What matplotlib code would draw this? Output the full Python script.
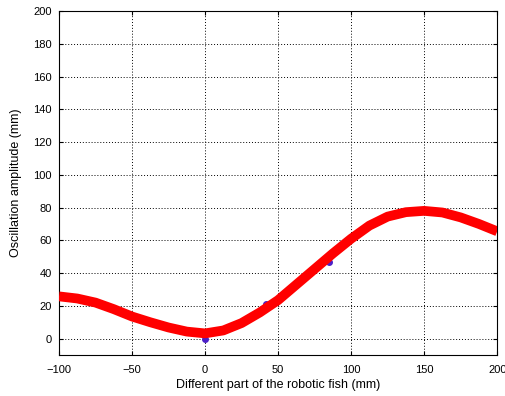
import numpy as np
import matplotlib
matplotlib.use('Agg')
import matplotlib.pyplot as plt

plt.rcParams['font.family'] = ['Liberation Sans', 'DejaVu Sans']

# Amplitude envelope
pos = [-100, -87.5, -75, -62.5, -50, -37.5, -25, -12.5, 0, 12.5, 25, 37.5, 50,
       62.5, 75, 87.5, 100, 112.5, 125, 137.5, 150, 162.5, 175, 187.5, 200]
amp = [25.8, 24.5, 22, 18, 13.5, 10, 6.8, 4.3, 3.2, 5, 9.5, 16, 23.5,
       33, 42.5, 52, 61, 69, 74.5, 77.2, 78, 77, 74, 70, 65.5]

# measured joint points
jx = [0, 42, 85]
jy = [-0.5, 21, 47]

fig = plt.figure(figsize=(5.06, 3.96), dpi=100)
ax = fig.add_axes([0.1166, 0.1035, 0.866, 0.8687])

ax.plot(jx, jy, 'o', color='#4b20c8', markersize=4, zorder=2)
ax.plot(pos, amp, '-', color='red', linewidth=7, solid_capstyle='butt',
        solid_joinstyle='round', zorder=3)

ax.set_xlim(-100, 200)
ax.set_ylim(-10, 200)
ax.set_xticks(np.arange(-100, 201, 50))
ax.set_yticks(np.arange(0, 201, 20))
ax.grid(True, color='black', linestyle=(0, (1, 2)), linewidth=0.7)
ax.set_axisbelow(True)
ax.tick_params(direction='in', top=True, right=True, labelsize=8, length=3)
ax.tick_params(axis='x', pad=7)
ax.tick_params(axis='y', pad=5)
for s in ax.spines.values():
    s.set_linewidth(0.8)

ax.set_xlabel('Different part of the robotic fish (mm)', fontsize=9, labelpad=3)
ax.set_ylabel('Oscillation amplitude (mm)', fontsize=9, labelpad=8)

fig.savefig('out.png', dpi=100)
